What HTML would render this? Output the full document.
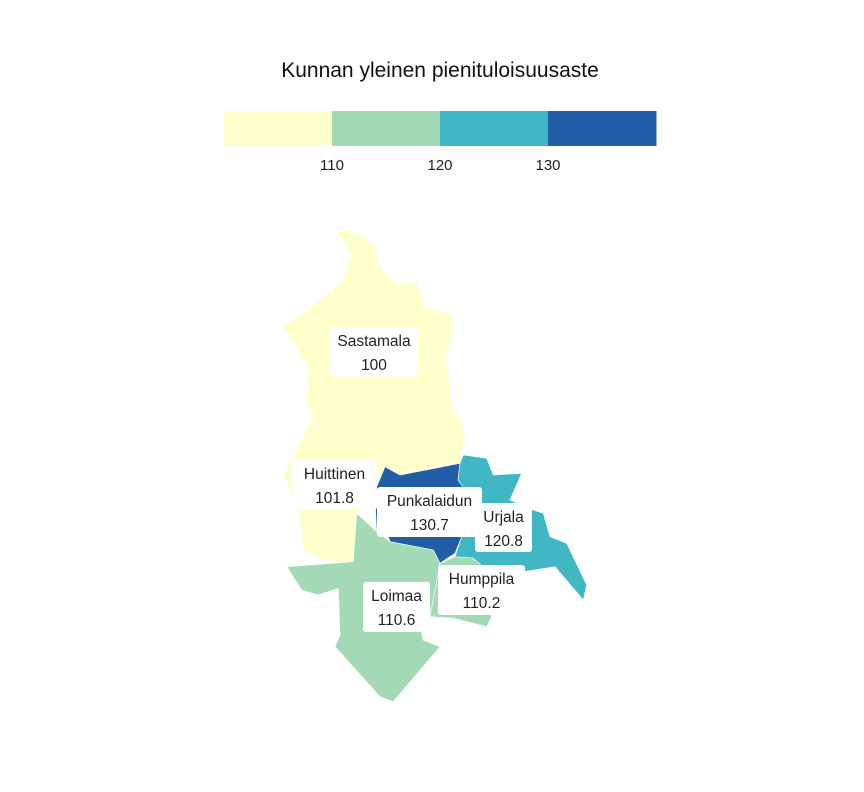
<!DOCTYPE html>
<html><head><meta charset="utf-8"><style>
body{margin:0;background:#fff;width:864px;height:792px;overflow:hidden;font-family:"Liberation Sans",sans-serif}
svg{display:block}
</style></head><body>
<svg id="chart" width="864" height="792">
<text x="440" y="77" text-anchor="middle" font-size="21" fill="#111">Kunnan yleinen pienituloisuusaste</text>
<g id="legend"></g>
<g id="regions"></g>
<g id="labels"></g>
</svg>
<script>
const municipalities=["Sastamala","Huittinen","Punkalaidun","Loimaa","Humppila","Urjala"];
const values=[100,101.8,130.7,110.6,110.2,120.8];
const valueLabels=["100","101.8","130.7","110.6","110.2","120.8"];
const thresholds=[110,120,130];
const tickLabels=["110","120","130"];
const palette=["#ffffcc","#a3dab5","#41b6c4","#225ea8"];
const shapes=[
"336.7,231.7 348,230 361.7,235 375,246.7 378.3,266.7 396.7,285 416.7,281.7 425,308.3 451.7,313.3 453.3,340 445,353.3 450,386.7 451.7,406.7 465,430 461.7,453.3 460,463.3 400,475 385,466.7 370,450 321.7,440 313.3,416.7 305,400 310,370 283.3,326.7 320,300 343.3,280 346.7,263.3 351.7,255",
"313.3,416.7 321.7,440 370,450 385,466.7 376.7,486.7 375,500 356.7,513.3 353.3,561.7 326.7,561.7 303.3,550 298.3,510 283.3,475",
"385,466.7 400,475 460,463.3 458,480 463,487 461.7,536.7 455,553.3 440,563.3 433.3,550 390,541.7 388,536 376.7,531.7 375,500 376.7,486.7",
"356.7,513.3 376.7,531.7 390,541.7 433.3,550 440,563.3 430,616.7 421.7,633 423,640 440,646.7 393.3,701.7 380,696.7 335,646.7 340,635 338.3,588.3 318.3,595 301.7,590 286.7,566.7 353.3,561.7",
"440,563.3 455,556.7 473,558 483,566.7 491.7,616.7 486.7,626.7 453.3,618.3 430,616.7",
"463.3,455 486.7,458.3 493.3,475 521.7,473.3 510,500 533.3,510 543.3,513.3 550,536.7 566.7,543.3 586.7,585 583.3,600 555,566.7 523.3,571.7 483,566.7 473,558 455,556.7 461.7,536.7 463,487 458,480 460,463.3"
];
const boxes=[[330,327,88,50],[292,460,85,50],[377,487,105,50],[363,582,67,50],[438,565,87,50],[475,503,57,49]];
const NS="http://www.w3.org/2000/svg";
function colorFor(v){let i=0;while(i<thresholds.length&&v>=thresholds[i])i++;return palette[i];}
const lx0=224,lw=108,ly=111,lh=35;
const legend=document.getElementById('legend');
palette.forEach((c,i)=>{
 const r=document.createElementNS(NS,'rect');
 r.setAttribute('x',lx0+i*lw);r.setAttribute('y',ly);r.setAttribute('width',lw+0.5);r.setAttribute('height',lh);r.setAttribute('fill',c);
 
 
 legend.appendChild(r);
});
tickLabels.forEach((t,i)=>{
 const tx=document.createElementNS(NS,'text');
 tx.setAttribute('x',lx0+(i+1)*lw);tx.setAttribute('y',170);tx.setAttribute('text-anchor','middle');tx.setAttribute('font-size','15');tx.setAttribute('fill','#222');
 tx.textContent=t;
 
 
 legend.appendChild(tx);
});
const regions=document.getElementById('regions'),labels=document.getElementById('labels');
municipalities.forEach((m,i)=>{
 const p=document.createElementNS(NS,'polygon');
 p.setAttribute('points',shapes[i]);p.setAttribute('fill',colorFor(values[i]));p.setAttribute('stroke','#fff');p.setAttribute('stroke-width','0.6');
 
 
 regions.appendChild(p);
});
municipalities.forEach((m,i)=>{
 const b=boxes[i];const g=document.createElementNS(NS,'g');
 
 
 const r=document.createElementNS(NS,'rect');
 r.setAttribute('x',b[0]);r.setAttribute('y',b[1]);r.setAttribute('width',b[2]);r.setAttribute('height',b[3]);r.setAttribute('rx',3);r.setAttribute('fill','#fff');
 g.appendChild(r);
 const cx=b[0]+b[2]/2;
 [m,valueLabels[i]].forEach((s,k)=>{
  const t=document.createElementNS(NS,'text');
  t.setAttribute('x',cx);t.setAttribute('y',b[1]+19+k*24);t.setAttribute('text-anchor','middle');t.setAttribute('font-size','15.5');t.setAttribute('fill','#222');
  t.textContent=s;g.appendChild(t);
 });
 labels.appendChild(g);
});
</script>
</body></html>
